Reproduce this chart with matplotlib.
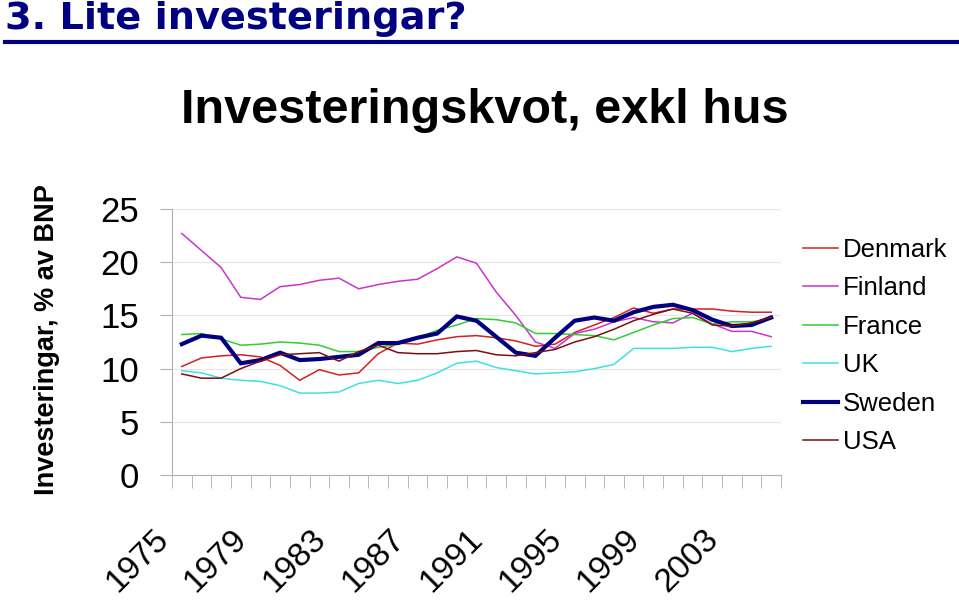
import numpy as np
import matplotlib
matplotlib.use("Agg")
import matplotlib.pyplot as plt
from matplotlib.lines import Line2D
from matplotlib.transforms import ScaledTranslation

plt.rcParams['font.family'] = ['Liberation Sans', 'DejaVu Sans']

# data, investeringskvot exkl hus (% av BNP), 1975-2005
years = list(range(1975, 2006))
denmark = [10.2, 11.0, 11.2, 11.3, 11.1, 10.3, 8.9, 9.9, 9.4, 9.6, 11.4, 12.4, 12.3, 12.7, 13.0, 13.1,
           12.9, 12.6, 12.1, 12.3, 13.4, 14.1, 14.8, 15.7, 15.2, 15.6, 15.6, 15.6, 15.4, 15.3, 15.3]
finland = [22.7, 21.1, 19.5, 16.7, 16.5, 17.7, 17.9, 18.3, 18.5, 17.5, 17.9, 18.2, 18.4, 19.4, 20.5, 19.9,
           17.2, 15.0, 12.5, 11.9, 13.3, 13.7, 14.4, 14.8, 14.4, 14.3, 15.2, 14.2, 13.5, 13.5, 13.0]
france = [13.2, 13.3, 12.8, 12.2, 12.3, 12.5, 12.4, 12.2, 11.6, 11.6, 12.0, 12.3, 12.9, 13.6, 14.1, 14.7,
          14.6, 14.3, 13.3, 13.3, 13.2, 13.1, 12.7, 13.4, 14.1, 14.7, 14.8, 14.2, 14.4, 14.4, 14.7]
uk = [9.8, 9.6, 9.1, 8.9, 8.8, 8.4, 7.7, 7.7, 7.8, 8.6, 8.9, 8.6, 8.9, 9.6, 10.5, 10.7,
      10.1, 9.8, 9.5, 9.6, 9.7, 10.0, 10.4, 11.9, 11.9, 11.9, 12.0, 12.0, 11.6, 11.9, 12.1]
sweden = [12.3, 13.1, 12.9, 10.5, 10.8, 11.5, 10.8, 10.9, 11.1, 11.3, 12.4, 12.4, 12.9, 13.3, 14.9, 14.5,
          13.0, 11.5, 11.2, 12.9, 14.5, 14.8, 14.5, 15.3, 15.8, 16.0, 15.5, 14.6, 14.0, 14.1, 14.8]
usa = [9.5, 9.1, 9.1, 10.0, 10.7, 11.3, 11.4, 11.5, 10.7, 11.6, 12.2, 11.5, 11.4, 11.4, 11.6, 11.7,
       11.3, 11.2, 11.5, 11.8, 12.5, 13.0, 13.7, 14.5, 15.1, 15.6, 15.2, 14.1, 14.0, 14.3, 14.8]

series = [("Denmark", denmark, "#d42020", 1.1),
          ("Finland", finland, "#cc33cc", 1.1),
          ("France", france, "#33cc33", 1.1),
          ("UK", uk, "#40e0e0", 1.1),
          ("Sweden", sweden, "#000080", 3.0),
          ("USA", usa, "#7a1010", 1.1)]

fig = plt.figure(figsize=(9.59, 6.01), dpi=100)

# header
fig.text(5/959, 1 - 29/601, "3. Lite investeringar?", color="#000080", fontsize=27.5,
         family='DejaVu Sans', fontweight='bold', ha='left', va='baseline')
fig.add_artist(Line2D([5/959, 957/959], [1 - 41.5/601, 1 - 41.5/601], color="#000080", lw=3))

# title
fig.text(485/959, 1 - 123/601, "Investeringskvot, exkl hus", fontsize=35,
         fontweight='bold', ha='center', va='baseline')

ax = fig.add_axes([172/959, 1 - 475/601, 609/959, 266/601])
x = np.arange(len(years))
for name, vals, col, lw in series:
    ax.plot(x, vals, color=col, lw=lw, label=name, solid_joinstyle='miter')

ax.set_xlim(-0.5, len(years) - 0.5)
ax.set_ylim(0, 25)
ax.set_yticks([0, 5, 10, 15, 20, 25])
ax.grid(axis='y', color='#e6e6e6', lw=0.8)
ax.set_axisbelow(True)
for s in ['top', 'right']:
    ax.spines[s].set_visible(False)
for s in ['left', 'bottom']:
    ax.spines[s].set_color('#b0b0b0')
ax.tick_params(axis='y', length=9, color='#b0b0b0', labelsize=25, pad=15)

# category ticks between years, labels every 4th year
ax.set_xticks(x[::4])
ax.set_xticklabels([str(y) for y in years[::4]], rotation=45, ha='right', va='top', fontsize=24)
ax.set_xticks(np.arange(-0.5, len(years), 1), minor=True)
ax.tick_params(axis='x', which='major', length=0, pad=35)
ax.tick_params(axis='x', which='minor', length=9, color='#b0b0b0')
off = ScaledTranslation(-7/100, 0, fig.dpi_scale_trans)
for lab in ax.get_xticklabels():
    lab.set_transform(lab.get_transform() + off)

fig.text(47/959, 1 - 340/601, "Investeringar, % av BNP", rotation=90, fontsize=19.5,
         fontweight='bold', ha='center', va='center')

ax.legend(loc='upper left', bbox_to_anchor=(803/959, 1 - 238/601), bbox_transform=fig.transFigure,
          frameon=False, fontsize=18.5, handlelength=1.35, handletextpad=0.2,
          labelspacing=0.56, borderpad=0, borderaxespad=0)

fig.savefig("out.png", dpi=100)
